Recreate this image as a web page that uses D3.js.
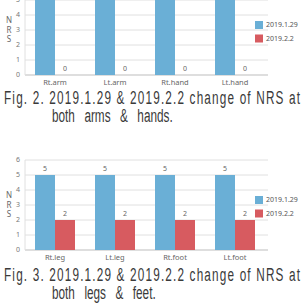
<!DOCTYPE html>
<html>
<head>
<meta charset="utf-8">
<script src="https://cdn.jsdelivr.net/npm/d3@7"></script>
<style>
  body { margin: 0; background: #fff; }
  svg { display: block; }
</style>
</head>
<body>
<svg id="fig" width="307" height="303"></svg>
<script>
/* two NRS bar charts with captions */
const seriesNames = ["2019.1.29", "2019.2.2"];
const seriesColors = ["#6aafd6", "#d75b60"];
const armCats = ["Rt.arm", "Lt.arm", "Rt.hand", "Lt.hand"];
const armBefore = [5, 5, 5, 5];
const armAfter = [0, 0, 0, 0];
const legCats = ["Rt.leg", "Lt.leg", "Rt.foot", "Lt.foot"];
const legBefore = [5, 5, 5, 5];
const legAfter = [2, 2, 2, 2];
const yTicks = [0, 1, 2, 3, 4, 5, 6];

const svg = d3.select("svg#fig");
const plotLeft = 25;
const plotRight = 265;
const unit = 15;
const squeeze = 0.62; // caption font is very condensed

function drawChart(top0, cats, before, after) {
    // top0 = pixel y of value 0
    const g = svg.append("g");
    const x = d3.scaleBand().domain(cats).range([plotLeft, plotRight]);
    const xs = d3.scaleBand().domain(seriesNames).range([0, x.bandwidth()]).paddingInner(0).paddingOuter(0.5);
    const y = d3.scaleLinear().domain([0, 6]).range([top0, top0 - 6 * unit]);

    // gridlines
    g.selectAll("line.grid")
        .data(yTicks)
        .join("line")
        .attr("class", "grid")
        .attr("x1", plotLeft)
        .attr("x2", plotRight + 3)
        .attr("y1", (d) => y(d))
        .attr("y2", (d) => y(d))
        .attr("stroke", (d) => (d === 0 ? "#bdbdbd" : "#e0e0e0"))
        .attr("stroke-width", 1);
    g.append("line")
        .attr("x1", plotLeft)
        .attr("x2", plotLeft)
        .attr("y1", y(0))
        .attr("y2", y(6))
        .attr("stroke", "#e0e0e0");

    // y tick labels
    g.selectAll("text.ytick")
        .data(yTicks)
        .join("text")
        .attr("class", "ytick")
        .attr("x", plotLeft - 5)
        .attr("y", (d) => y(d))
        .attr("dy", "0.35em")
        .attr("text-anchor", "end")
        .style("font-size", "7px")
        .style("fill", "#777")
        .text((d) => d);

    // NRS vertical label
    ["N", "R", "S"].forEach((ch, i) => {
        g.append("text")
            .attr("x", 9)
            .attr("y", y(4) + 8 + i * 9.5)
            .attr("text-anchor", "middle")
            .style("font-size", "8px")
            .style("fill", "#666")
            .text(ch);
    });

    const vals = [before, after];
    vals.forEach((arr, s) => {
        g.selectAll("rect.s" + s)
            .data(cats)
            .join("rect")
            .attr("class", "s" + s)
            .attr("x", (c) => x(c) + xs(seriesNames[s]))
            .attr("width", xs.bandwidth())
            .attr("y", (c, i) => y(arr[i]))
            .attr("height", (c, i) => y(0) - y(arr[i]))
            .attr("fill", seriesColors[s]);
        g.selectAll("text.v" + s)
            .data(cats)
            .join("text")
            .attr("class", "v" + s)
            .attr("x", (c) => x(c) + xs(seriesNames[s]) + xs.bandwidth() / 2)
            .attr("y", (c, i) => y(arr[i]) - 4)
            .attr("text-anchor", "middle")
            .style("font-size", "7px")
            .style("fill", "#666")
            .text((c, i) => arr[i]);
    });

    // category labels
    g.selectAll("text.cat")
        .data(cats)
        .join("text")
        .attr("class", "cat")
        .attr("x", (c) => x(c) + x.bandwidth() / 2)
        .attr("y", y(0) + 10)
        .attr("text-anchor", "middle")
        .style("font-size", "7.5px")
        .style("fill", "#666")
        .text((c) => c);

    // legend
    seriesNames.forEach((name, i) => {
        const ly = y(4) + 6 + i * 13.5;
        g.append("rect")
            .attr("x", 255)
            .attr("y", ly)
            .attr("width", 8)
            .attr("height", 8)
            .attr("fill", seriesColors[i]);
        g.append("text")
            .attr("x", 266)
            .attr("y", ly + 4)
            .attr("dy", "0.35em")
            .style("font-size", "7px")
            .style("fill", "#555")
            .text(name);
    });
}

function caption(y1, line1, line2) {
    const cap = svg.append("g")
        .style("font-family", "'Liberation Sans', Arial, sans-serif")
        .style("font-size", "19px")
        .style("fill", "#3a3a3a");
    cap.append("text")
        .attr("transform", `translate(4, ${y1}) scale(${squeeze}, 1)`)
        .attr("textLength", 296 / squeeze)
        .attr("lengthAdjust", "spacing")
        .text(line1);
    cap.append("text")
        .attr("transform", `translate(52, ${y1 + 18}) scale(${squeeze}, 1)`)
        .style("word-spacing", "10px")
        .text(line2);
}

svg.style("font-family", "'Noto Sans', sans-serif");
drawChart(75, armCats, armBefore, armAfter);
caption(104, "Fig. 2. 2019.1.29 & 2019.2.2 change of NRS at", "both arms & hands.");
drawChart(250, legCats, legBefore, legAfter);
caption(281, "Fig. 3. 2019.1.29 & 2019.2.2 change of NRS at", "both legs & feet.");
</script>
</body>
</html>
